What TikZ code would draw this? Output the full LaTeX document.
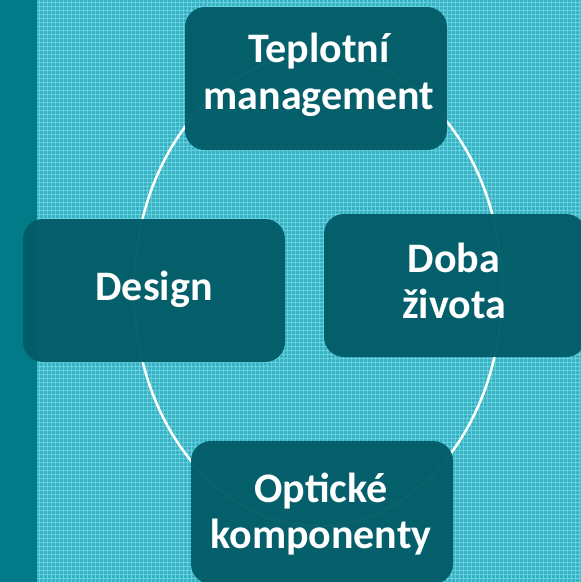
\documentclass[tikz,border=0pt]{standalone}
\usepackage{fontspec}
\setmainfont{Carlito}
\definecolor{bgteal}{HTML}{3BB9CA}
\definecolor{gridlight}{HTML}{66CEDB}
\definecolor{griddark}{HTML}{33B0C1}
\definecolor{stripteal}{HTML}{007B87}
\definecolor{boxteal}{HTML}{035D69}
\tikzset{
  topicbox/.style={draw=none, fill=boxteal, fill opacity=0.97, rounded corners=20pt,
    minimum width=262pt, minimum height=143pt, inner sep=0pt},
  topictext/.style={text=white, align=center, inner sep=0pt,
    font=\fontsize{42}{46.5}\selectfont\bfseries},
  cycleline/.style={draw=white, line width=2.5pt}
}
\begin{document}
\begin{tikzpicture}[x=1pt,y=-1pt]
  \useasboundingbox (0,0) rectangle (581,582);
  % textured background
  \fill[bgteal] (0,0) rectangle (581,582);
  \begin{scope}
    \clip (37,0) rectangle (581,582);
    \foreach \k in {0,...,146} {
      \draw[griddark, line width=0.8pt] (37+4*\k,0) -- (37+4*\k,582);
      \draw[griddark, line width=0.8pt] (37,4*\k) -- (581,4*\k);
    }
    \foreach \k in {0,...,146} {
      \draw[gridlight, line width=0.6pt] (39+4*\k,0) -- (39+4*\k,582);
      \draw[gridlight, line width=0.6pt] (37,2+4*\k) -- (581,2+4*\k);
    }
  \end{scope}
  % dark strip on the left edge
  \fill[stripteal] (0,0) rectangle (37,582);

  % cycle behind the topics
  \draw[cycleline] (318,290) ellipse [x radius=184, y radius=236];

  % topic boxes
  \node[topicbox] (thermal) at (316,78.5) {};
  \node[topicbox] (design)  at (154,290.5) {};
  \node[topicbox] (life)    at (455,285.5) {};
  \node[topicbox] (optics)  at (322,512.5) {};

  % topic labels
  \node[topictext] (thermallbl) at (319,75)  {Teplotní\\management};
  \node[topictext] (designlbl)  at (154,289) {Design};
  \node[topictext] (lifelbl)    at (454,281) {Doba\\života};
  \node[topictext] (opticslbl)  at (321,514) {Optické\\komponenty};
\end{tikzpicture}
\end{document}
